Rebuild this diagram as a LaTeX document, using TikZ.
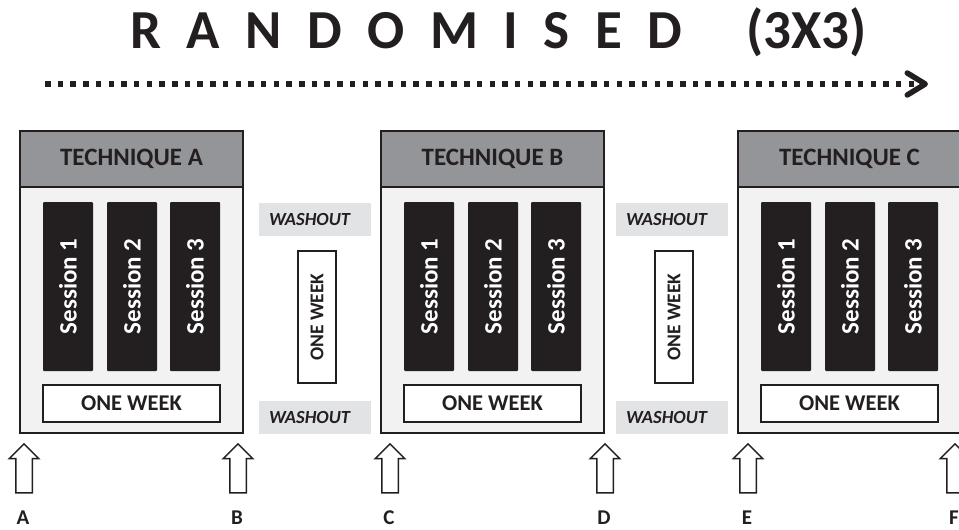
\documentclass[tikz,border=0pt]{standalone}
\usepackage{fontspec}
\setmainfont{Carlito}
\usetikzlibrary{shapes.arrows,arrows.meta}
\definecolor{ink}{HTML}{231F20}
\definecolor{headgray}{HTML}{939598}
\definecolor{bodygray}{HTML}{F2F2F2}
\definecolor{washgray}{HTML}{E2E3E5}
\tikzset{
  techbox/.style={draw=ink,line width=2.5pt,fill=bodygray,minimum width=223pt,minimum height=302pt,inner sep=0pt},
  headbox/.style={draw=ink,line width=2.5pt,fill=headgray,minimum width=223pt,minimum height=56pt,inner sep=0pt,text=ink,font=\fontsize{25}{28}\selectfont\bfseries},
  sessionbox/.style={fill=ink,rotate=90,minimum width=169pt,minimum height=50pt,inner sep=0pt,rounded corners=1pt,text=white,font=\fontsize{25}{27}\selectfont\bfseries},
  weekbox/.style={draw=ink,line width=2pt,fill=white,minimum width=177pt,minimum height=37pt,inner sep=0pt,text=ink,font=\fontsize{22.5}{24}\selectfont\bfseries},
  vweekbox/.style={weekbox,rotate=90,minimum width=132pt,minimum height=38pt,font=\fontsize{19.5}{21}\selectfont\bfseries},
  washbox/.style={fill=washgray,text width=92pt,align=left,inner xsep=10pt,inner ysep=0pt,minimum height=33pt,text=ink,font=\fontsize{18.5}{20}\selectfont\bfseries\itshape},
  uparrow/.style={single arrow,draw=ink,line width=1.5pt,fill=white,rotate=90,minimum height=49pt,minimum width=0pt,inner xsep=0pt,inner ysep=7.5pt,single arrow head extend=6.5pt,single arrow head indent=0pt},
  marklabel/.style={text=ink,font=\fontsize{21}{23}\selectfont\bfseries}
}
\begin{document}
\begin{tikzpicture}[x=1pt,y=-1pt]
  \fill [white] (0,0) rectangle (959,530);
  \useasboundingbox (0,0) rectangle (959,530);

  \node [anchor=base west,text=ink,inner sep=0pt,font=\fontsize{55}{60}\selectfont\bfseries] (title) at (130,48)
    {R\hspace{25.5pt}A\hspace{25.5pt}N\hspace{25.5pt}D\hspace{25.5pt}O\hspace{25.5pt}M\hspace{25.5pt}I\hspace{25.5pt}S\hspace{25.5pt}E\hspace{25.5pt}D};
  \node [anchor=base west,text=ink,inner sep=0pt,font=\fontsize{55}{60}\selectfont\bfseries] (grid size) at (746,48) {(3X3)};

  \coordinate (dots start) at (45,84);
  \coordinate (dots end) at (928,84);
  \draw [ink,line width=5.5pt,dash pattern=on 5.5pt off 7.2pt,-{Straight Barb[length=18pt,width=22pt,line cap=round,line join=round]}] (dots start) -- (dots end);

  \foreach \x/\t in {20/A,381/B,738/C} {
    \node [techbox] (tech \t) at (\x+111.5,282) {};
    \node [headbox] (head \t) at (\x+111.5,159) {TECHNIQUE \t};
    \foreach \s/\dx in {1/48,2/112,3/175}
      \node [sessionbox] (session \t\s) at (\x+\dx,286.5) {Session \s};
    \node [weekbox] (week \t) at (\x+111.5,403.5) {ONE WEEK};
  }

  \foreach \x/\n in {259/1,616/2} {
    \node [washbox] (wash top \n) at (\x+56,219.5) {WASHOUT};
    \node [washbox] (wash bottom \n) at (\x+56,417) {WASHOUT};
    \node [vweekbox] (gap week \n) at (\x+58,317) {ONE WEEK};
  }

  \foreach \l/\x in {A/24,B/238,C/390,D/605,E/748,F/955} {
    \node [uparrow] (up \l) at (\x,472.5) {};
    \node [marklabel] (mark \l) at (\x-1,518) {\l};
  }
\end{tikzpicture}
\end{document}
